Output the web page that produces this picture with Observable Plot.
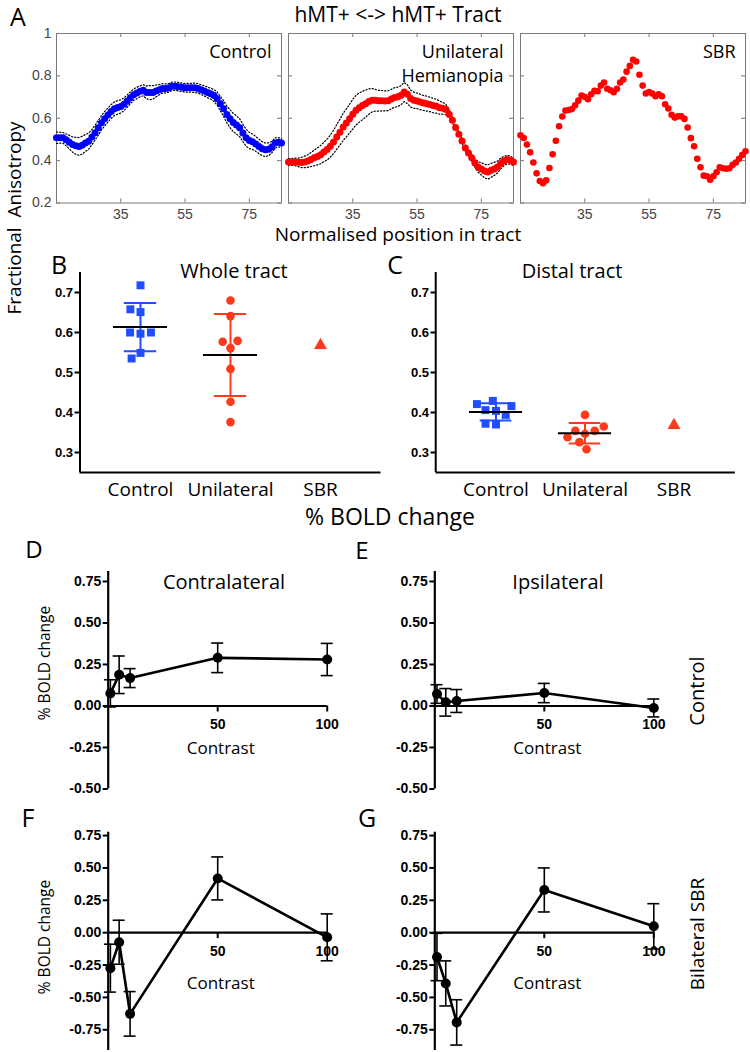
<!DOCTYPE html>
<html>
<head>
<meta charset="utf-8">
<script src="https://cdn.jsdelivr.net/npm/d3@7"></script>
<script src="https://cdn.jsdelivr.net/npm/@observablehq/plot@0.6"></script>
<style>
  body { margin: 0; background: #fff; }
  #fig { position: relative; width: 750px; height: 1052px; overflow: hidden; font-family: "Open Sans", sans-serif; }
  #fig svg { position: absolute; }
  .lbl { position: absolute; white-space: pre; line-height: 1; color: #000; }
</style>
</head>
<body>
<div id="fig"></div>
<script>
// ---------- Panel A data ----------
const aPanels = ["Control", "Unilateral Hemianopia", "SBR"];
const aPanelLabels = ["Control", "Unilateral\nHemianopia", "SBR"];
const aPositions = [15,16,17,18,19,20,21,22,23,24,25,26,27,28,29,30,31,32,33,34,35,36,37,38,39,40,41,42,43,44,45,46,47,48,49,50,51,52,53,54,55,56,57,58,59,60,61,62,63,64,65,66,67,68,69,70,71,72,73,74,75,76,77,78,79,80,81,82,83,84,85];
const aControlFA = [0.508,0.508,0.508,0.498,0.487,0.476,0.470,0.467,0.473,0.483,0.492,0.511,0.532,0.555,0.579,0.598,0.615,0.632,0.645,0.651,0.656,0.666,0.681,0.697,0.711,0.719,0.727,0.732,0.722,0.721,0.722,0.729,0.735,0.741,0.741,0.744,0.751,0.751,0.749,0.746,0.744,0.744,0.744,0.744,0.741,0.735,0.729,0.722,0.716,0.707,0.692,0.669,0.645,0.618,0.598,0.580,0.568,0.555,0.530,0.508,0.495,0.489,0.479,0.467,0.456,0.451,0.454,0.464,0.483,0.487,0.483];
const aControlCI = [0.027,0.026,0.025,0.028,0.032,0.036,0.040,0.042,0.042,0.040,0.038,0.036,0.035,0.035,0.034,0.034,0.033,0.033,0.032,0.032,0.031,0.030,0.029,0.028,0.027,0.027,0.026,0.026,0.030,0.033,0.032,0.028,0.024,0.022,0.021,0.020,0.020,0.020,0.020,0.020,0.020,0.021,0.021,0.022,0.022,0.023,0.024,0.025,0.026,0.028,0.031,0.034,0.037,0.040,0.042,0.043,0.043,0.042,0.041,0.040,0.038,0.036,0.035,0.034,0.033,0.032,0.030,0.027,0.024,0.022,0.020];
const aUnilateralFA = [0.394,0.394,0.394,0.392,0.391,0.394,0.398,0.405,0.413,0.420,0.428,0.441,0.452,0.468,0.488,0.512,0.534,0.559,0.578,0.598,0.619,0.638,0.650,0.660,0.669,0.679,0.685,0.685,0.683,0.683,0.682,0.683,0.691,0.698,0.701,0.709,0.724,0.713,0.693,0.685,0.682,0.677,0.672,0.669,0.665,0.660,0.657,0.650,0.647,0.641,0.619,0.591,0.556,0.524,0.493,0.460,0.436,0.414,0.389,0.370,0.361,0.351,0.346,0.354,0.361,0.370,0.386,0.398,0.405,0.402,0.394];
const aUnilateralCI = [0.015,0.016,0.018,0.020,0.024,0.027,0.030,0.033,0.037,0.040,0.043,0.046,0.049,0.052,0.055,0.058,0.061,0.064,0.066,0.068,0.070,0.070,0.069,0.067,0.064,0.060,0.055,0.051,0.049,0.048,0.047,0.047,0.046,0.046,0.046,0.045,0.045,0.044,0.040,0.038,0.037,0.036,0.035,0.035,0.034,0.034,0.033,0.031,0.028,0.024,0.018,0.013,0.010,0.010,0.010,0.011,0.013,0.016,0.020,0.025,0.029,0.032,0.034,0.033,0.031,0.028,0.025,0.022,0.020,0.019,0.018];
const aSbrFA = [0.520,0.507,0.476,0.439,0.391,0.340,0.304,0.293,0.307,0.365,0.430,0.494,0.562,0.608,0.636,0.639,0.644,0.661,0.683,0.707,0.701,0.690,0.713,0.729,0.728,0.754,0.769,0.739,0.732,0.723,0.739,0.769,0.783,0.820,0.847,0.876,0.868,0.805,0.754,0.717,0.724,0.717,0.704,0.713,0.704,0.666,0.646,0.616,0.603,0.609,0.609,0.597,0.556,0.506,0.468,0.409,0.369,0.329,0.326,0.310,0.326,0.345,0.369,0.364,0.362,0.364,0.380,0.391,0.409,0.427,0.444];
const aXDomain = [15, 85];
const aYDomain = [0.2, 1];
const aXTicks = [35, 55, 75];
const aYTicks = [0.2, 0.4, 0.6, 0.8, 1];

// ---------- Panels B / C data ----------
const bcGroups = ["Control", "Unilateral", "SBR"];
const wholeControl = [0.597, 0.600, 0.600, 0.651, 0.658, 0.718, 0.549, 0.535];
const wholeUnilateral = [0.561, 0.577, 0.579, 0.680, 0.641, 0.509, 0.427, 0.376];
const wholeSBR = [0.568];
const distalControl = [0.404, 0.406, 0.394, 0.416, 0.421, 0.429, 0.370, 0.372];
const distalUnilateral = [0.347, 0.354, 0.354, 0.338, 0.365, 0.394, 0.326, 0.308];
const distalSBR = [0.368];
const bcYDomain = [0.25, 0.75];
const bcYTicks = [0.3, 0.4, 0.5, 0.6, 0.7];

// ---------- Panels D-G data ----------
const contrasts = [1, 5, 10, 50, 100];
const dMean = [0.076, 0.188, 0.168, 0.290, 0.280];
const dErr  = [0.082, 0.113, 0.057, 0.089, 0.097];
const eMean = [0.072, 0.022, 0.030, 0.078, -0.012];
const eErr  = [0.056, 0.083, 0.069, 0.058, 0.054];
const fMean = [-0.274, -0.074, -0.627, 0.419, -0.036];
const fErr  = [0.185, 0.170, 0.172, 0.166, 0.181];
const gMean = [-0.188, -0.392, -0.693, 0.330, 0.049];
const gErr  = [0.183, 0.174, 0.175, 0.170, 0.175];
const lineXTicks = [50, 100];
const topYTicks = [-0.5, -0.25, 0, 0.25, 0.5, 0.75];
const bottomYTicks = [-0.75, -0.5, -0.25, 0, 0.25, 0.5, 0.75];

// ---------- styling ----------
const sansFont = "'Open Sans', sans-serif";
const arialFont = "'Liberation Sans', Arial, sans-serif";
const aBlue = "#0000ff", aRed = "#ff0000";
const bcBlue = "#1f4dff", bcRed = "#ff3a1c";
const fig = document.getElementById("fig");

function place(svg, left, top) {
  svg.style.left = left + "px";
  svg.style.top = top + "px";
  fig.appendChild(svg);
}

// ---------- Panel A ----------
(function () {
  const rows = (fa, ci, panel) => aPositions.map((x, i) => ({panel, x, fa: fa[i], ci: ci ? ci[i] : 0}));
  const ctrl = rows(aControlFA, aControlCI, aPanels[0]);
  const uni = rows(aUnilateralFA, aUnilateralCI, aPanels[1]);
  const sbr = rows(aSbrFA, null, aPanels[2]);
  const labels = aPanels.map((p, i) => ({panel: p, label: aPanelLabels[i]}));
  const gray = "#7a7a7a";
  const ciMarks = (data) => [
    Plot.line(data, {fx: "panel", x: "x", y: d => d.fa + d.ci, stroke: "#000", strokeWidth: 1.2, strokeDasharray: "1.2,2"}),
    Plot.line(data, {fx: "panel", x: "x", y: d => d.fa - d.ci, stroke: "#000", strokeWidth: 1.2, strokeDasharray: "1.2,2"})
  ];
  const svg = Plot.plot({
    width: 750, height: 230,
    marginLeft: 55, marginRight: 3, marginTop: 33, marginBottom: 27.5,
    style: {fontFamily: sansFont, background: "transparent", overflow: "visible"},
    fx: {domain: aPanels, paddingInner: 0.03, paddingOuter: 0, axis: null},
    x: {domain: aXDomain},
    y: {domain: aYDomain},
    marks: [
      Plot.frame({stroke: gray}),
      Plot.ruleX(aXTicks, {x: d => d, y1: aYDomain[0], y2: aYDomain[0], insetTop: -4, stroke: gray}),
      Plot.ruleX(aXTicks, {x: d => d, y1: aYDomain[1], y2: aYDomain[1], insetBottom: -4, stroke: gray}),
      Plot.ruleY(aYTicks, {y: d => d, x1: aXDomain[0], x2: aXDomain[0], insetRight: -4, stroke: gray}),
      Plot.ruleY(aYTicks, {y: d => d, x1: aXDomain[1], x2: aXDomain[1], insetLeft: -4, stroke: gray}),
      Plot.axisY({ticks: aYTicks, tickSize: 0, tickPadding: 5, fontSize: 14, fontFamily: arialFont, fill: "#444", tickFormat: d3.format("~g"), label: null}),
      Plot.axisX({ticks: aXTicks, tickSize: 0, tickPadding: 6, fontSize: 14, fontFamily: arialFont, fill: "#444", label: null}),
      ...ciMarks(ctrl),
      ...ciMarks(uni),
      Plot.dot(ctrl, {fx: "panel", x: "x", y: "fa", r: 3.5, fill: aBlue}),
      Plot.dot(uni, {fx: "panel", x: "x", y: "fa", r: 3.5, fill: aRed}),
      Plot.dot(sbr, {fx: "panel", x: "x", y: "fa", r: 3.3, fill: aRed}),
      Plot.text(labels, {fx: "panel", text: "label", frameAnchor: "top-right", textAnchor: "end", lineAnchor: "top", dx: -10, dy: 8, fontSize: 18, lineHeight: 1.3, fill: "#000"})
    ]
  });
  place(svg, 0, 0);
})();

// ---------- Panels B / C ----------
function scatterPanel(series, marginLeft, marginRight) {
  const W = 390, H = 262, mT = 22, mB = 40;
  const po = 0.172;
  const step = (W - marginLeft - marginRight) / (bcGroups.length + 2 * po);
  const pad = step * po;
  const first = [{g: bcGroups[0]}];
  const marks = [
    // bottom axis line across the whole frame (drawn once, from the first facet)
    Plot.ruleY(first, {fx: "g", y: () => bcYDomain[0], insetLeft: -pad, insetRight: -(2 * step + pad), strokeWidth: 2}),
    // left axis line
    Plot.ruleX(first, {fx: "g", x: null, y1: () => bcYDomain[0], y2: () => bcYDomain[1], dx: -(step / 2 + pad), strokeWidth: 2}),
    Plot.axisY(bcYTicks, {dx: -pad, tickSize: 5, strokeWidth: 2, tickPadding: 2, fontSize: 13, fontWeight: "bold", fontFamily: arialFont, tickFormat: d3.format(".1f"), label: null})
  ];
  for (const s of series) {
    if (s.values.length > 1) {
      const st = [{g: s.group, mean: d3.mean(s.values), sd: d3.deviation(s.values)}];
      marks.push(
        Plot.ruleX(st, {fx: "g", x: null, y1: d => d.mean - d.sd, y2: d => d.mean + d.sd, stroke: s.color, strokeWidth: 2}),
        Plot.ruleY(st, {fx: "g", y: d => d.mean - d.sd, insetLeft: step * 0.32, insetRight: step * 0.32, stroke: s.color, strokeWidth: 2}),
        Plot.ruleY(st, {fx: "g", y: d => d.mean + d.sd, insetLeft: step * 0.32, insetRight: step * 0.32, stroke: s.color, strokeWidth: 2})
      );
    }
    marks.push(Plot.dot(s.values, Plot.dodgeX({anchor: "middle", padding: 1.5}, {fx: () => s.group, y: d => d, r: s.r, symbol: s.symbol, fill: s.color})));
    if (s.values.length > 1) {
      const st = [{g: s.group, mean: d3.mean(s.values)}];
      marks.push(Plot.ruleY(st, {fx: "g", y: "mean", insetLeft: step * 0.2, insetRight: step * 0.2, stroke: "#000", strokeWidth: 2}));
    }
  }
  return Plot.plot({
    width: W, height: H, marginLeft, marginRight, marginTop: mT, marginBottom: mB,
    style: {fontFamily: sansFont, fontSize: "19px", background: "transparent", overflow: "visible"},
    fx: {domain: bcGroups, paddingInner: 0, paddingOuter: po, label: null, axis: "bottom", tickSize: 0, tickPadding: 10},
    x: {axis: null},
    y: {domain: bcYDomain},
    marks
  });
}
place(scatterPanel([
  {group: bcGroups[0], values: wholeControl, color: bcBlue, symbol: "square", r: 4.5},
  {group: bcGroups[1], values: wholeUnilateral, color: bcRed, symbol: "circle", r: 4.3},
  {group: bcGroups[2], values: wholeSBR, color: bcRed, symbol: "triangle", r: 4.8}
], 79, 10), 0, 250);
place(scatterPanel([
  {group: bcGroups[0], values: distalControl, color: bcBlue, symbol: "square", r: 4.5},
  {group: bcGroups[1], values: distalUnilateral, color: bcRed, symbol: "circle", r: 4.3},
  {group: bcGroups[2], values: distalSBR, color: bcRed, symbol: "triangle", r: 4.8}
], 74, 16), 360, 250);

// ---------- Panels D-G ----------
function linePanel(cfg) {
  const rows = contrasts.map((c, i) => ({c, m: cfg.mean[i], e: cfg.err[i]}));
  const frameW = 219;
  return Plot.plot({
    width: 375, height: cfg.height,
    marginLeft: cfg.marginLeft, marginRight: 375 - cfg.marginLeft - frameW,
    marginTop: cfg.marginTop, marginBottom: cfg.marginBottom,
    style: {fontFamily: sansFont, background: "transparent", overflow: "visible"},
    x: {domain: [0, 100], axis: null},
    y: {domain: cfg.yDomain},
    marks: [
      Plot.ruleX([0], {strokeWidth: 2.2}),
      Plot.ruleY([0], {x1: 0, x2: 100, strokeWidth: 2.2}),
      Plot.ruleX(lineXTicks, {x: d => d, y1: 0, y2: 0, insetBottom: -6, strokeWidth: 2}),
      Plot.text(lineXTicks, {x: d => d, y: 0, dy: 19, text: d => String(d), fontSize: 14, fontWeight: "bold", fontFamily: arialFont}),
      Plot.axisY(cfg.yTicks, {tickSize: 5, strokeWidth: 2, tickPadding: 2, fontSize: 14, fontWeight: "bold", fontFamily: arialFont, tickFormat: d => d.toFixed(2), label: null}),
      Plot.ruleX(rows, {x: "c", y1: d => d.m - d.e, y2: d => d.m + d.e, strokeWidth: 1.6}),
      Plot.ruleY(rows, {x1: "c", x2: "c", y: d => d.m - d.e, insetLeft: -6, insetRight: -6, strokeWidth: 1.6}),
      Plot.ruleY(rows, {x1: "c", x2: "c", y: d => d.m + d.e, insetLeft: -6, insetRight: -6, strokeWidth: 1.6}),
      Plot.line(rows, {x: "c", y: "m", strokeWidth: 2.6}),
      Plot.dot(rows, {x: "c", y: "m", r: 5, fill: "#000"}),
      Plot.text(["Contrast"], {y: 0, dy: cfg.labelDy, frameAnchor: "middle", text: d => d, fontSize: 17, dx: 3})
    ]
  });
}
place(linePanel({mean: dMean, err: dErr, yDomain: [-0.5, 0.81], yTicks: topYTicks, height: 240, marginLeft: 107.7, marginTop: 11, marginBottom: 11.5, labelDy: 43}), 0, 560);
place(linePanel({mean: eMean, err: eErr, yDomain: [-0.5, 0.81], yTicks: topYTicks, height: 240, marginLeft: 59.3, marginTop: 11, marginBottom: 11.5, labelDy: 43}), 375, 560);
place(linePanel({mean: fMean, err: fErr, yDomain: [-0.91, 0.776], yTicks: bottomYTicks, height: 232, marginLeft: 107.7, marginTop: 11.7, marginBottom: 2, labelDy: 51}), 0, 820);
place(linePanel({mean: gMean, err: gErr, yDomain: [-0.91, 0.776], yTicks: bottomYTicks, height: 232, marginLeft: 59.3, marginTop: 11.7, marginBottom: 2, labelDy: 51}), 375, 820);

// ---------- Text labels ----------
const texts = [
  {t: "A", x: 18, y: 16, s: 25},
  {t: "hMT+ <-> hMT+ Tract", x: 398, y: 14, s: 21},
  {t: "Normalised position in tract", x: 398, y: 234, s: 19},
  {t: "Fractional  Anisotropy", x: 14, y: 218, s: 19, rot: true},
  {t: "B", x: 59, y: 264, s: 25},
  {t: "Whole tract", x: 234, y: 271, s: 20},
  {t: "C", x: 395, y: 264, s: 25},
  {t: "Distal tract", x: 572, y: 271, s: 20},
  {t: "% BOLD change", x: 390, y: 516, s: 23},
  {t: "D", x: 34, y: 549, s: 24},
  {t: "E", x: 362, y: 550, s: 24},
  {t: "Contralateral", x: 224, y: 582, s: 20},
  {t: "Ipsilateral", x: 558, y: 582, s: 20},
  {t: "% BOLD change", x: 45, y: 663, s: 15.5, rot: true},
  {t: "Control", x: 697, y: 691, s: 20, rot: true},
  {t: "F", x: 28, y: 817, s: 25},
  {t: "G", x: 367, y: 817, s: 25},
  {t: "% BOLD change", x: 45, y: 937, s: 15.5, rot: true},
  {t: "Bilateral SBR", x: 697, y: 934, s: 19, rot: true}
];
for (const d of texts) {
  const el = document.createElement("div");
  el.className = "lbl";
  el.textContent = d.t;
  el.style.left = d.x + "px";
  el.style.top = d.y + "px";
  el.style.fontSize = d.s + "px";
  el.style.transform = "translate(-50%,-50%)" + (d.rot ? " rotate(-90deg)" : "");
  fig.appendChild(el);
}
</script>
</body>
</html>
